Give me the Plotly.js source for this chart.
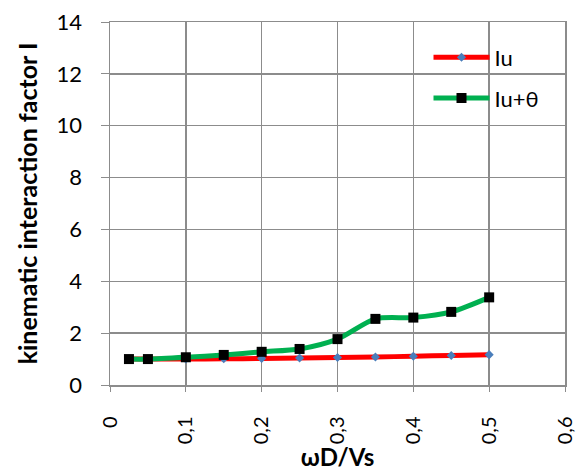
<!DOCTYPE html>
<html>
<head>
<meta charset="utf-8">
<script src="https://cdn.plot.ly/plotly-3.0.1.min.js"></script>
<style>
  html, body { margin: 0; padding: 0; background: #fff; }
  #chart { width: 579px; height: 471px; }
</style>
</head>
<body>
<div id="chart"></div>
<script>
// Dimensionless frequency ωD/Vs
const freq = [0.025, 0.05, 0.1, 0.15, 0.2, 0.25, 0.3, 0.35, 0.4, 0.45, 0.5];
// Kinematic interaction factor, translational component only
const iu = [1.0, 1.0, 1.0, 1.01, 1.02, 1.04, 1.06, 1.08, 1.11, 1.14, 1.17];
// Kinematic interaction factor, translation plus rotation
const iuTheta = [1.0, 1.0, 1.07, 1.16, 1.28, 1.39, 1.77, 2.55, 2.6, 2.82, 3.38];

const xTicks = [0, 0.1, 0.2, 0.3, 0.4, 0.5, 0.6];
const yTicks = [0, 2, 4, 6, 8, 10, 12, 14];

const font = 'Lato, "Open Sans", "Liberation Sans", sans-serif';
const gridColor = '#8c8c8c';

const traces = [
  {
    x: freq, y: iu, name: 'Iu', type: 'scatter', mode: 'lines+markers',
    legendgroup: 'a',
    line: { color: '#ff0000', width: 5, shape: 'spline', smoothing: 0.8 },
    marker: { symbol: 'diamond', size: 7, color: '#4a7ebb' }
  },
  {
    x: freq, y: iuTheta, name: 'Iu+θ', type: 'scatter', mode: 'lines+markers',
    legendgroup: 'b',
    line: { color: '#00b050', width: 5, shape: 'spline', smoothing: 0.8 },
    marker: { symbol: 'square', size: 10, color: '#000000' }
  }
];

const layout = {
  width: 579, height: 471,
  margin: { l: 110, r: 14, t: 22, b: 86 },
  paper_bgcolor: '#ffffff', plot_bgcolor: '#ffffff',
  separators: ', ',
  font: { family: font, color: '#000000', size: 23 },
  xaxis: {
    range: [0, 0.6], tickvals: xTicks, tickangle: -90,
    showgrid: true, gridcolor: gridColor, gridwidth: 1.5,
    showline: true, linecolor: gridColor, linewidth: 1.5, mirror: true,
    ticks: 'outside', ticklen: 5, tickcolor: gridColor,
    ticklabelstandoff: 17,
    zeroline: false,
    tickfont: { family: font, size: 20 },
    title: { text: '<b>ωD/Vs</b>', font: { family: font, size: 24 }, standoff: 2 }
  },
  yaxis: {
    range: [0, 14], tickvals: yTicks,
    showgrid: true, gridcolor: gridColor, gridwidth: 1.5,
    showline: true, linecolor: gridColor, linewidth: 1.5, mirror: true,
    ticks: 'outside', ticklen: 8, tickcolor: gridColor,
    ticklabelstandoff: 14,
    zeroline: false,
    tickfont: { family: font, size: 22 },
    title: { text: '<b>kinematic interaction factor I</b>', font: { family: font, size: 25 }, standoff: 12 }
  },
  showlegend: true,
  legend: {
    x: 0.7, y: 0.96, xanchor: 'left', yanchor: 'top',
    bgcolor: 'rgba(0,0,0,0)', borderwidth: 0,
    font: { family: font, size: 22 },
    traceorder: 'grouped', tracegroupgap: 9,
    itemwidth: 56
  }
};

Plotly.newPlot('chart', traces, layout, { displayModeBar: false, staticPlot: true });
</script>
</body>
</html>
